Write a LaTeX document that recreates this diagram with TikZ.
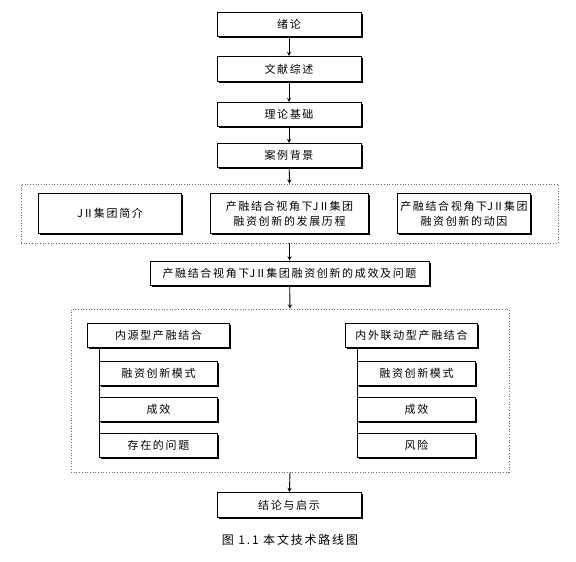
\documentclass[tikz,border=0pt]{standalone}
\usepackage{fontspec}
\setmainfont{Noto Sans CJK SC}[LetterSpace = 15]
\newfontfamily\tightfont{Noto Sans CJK SC}
\usepackage{tikz}
\usepackage{xcolor}
\usetikzlibrary{shadows}
\definecolor{framecolor}{HTML}{6e6e6e}
\newcommand{\jtwo}{{\tightfont JⅡ}}

\begin{document}
\begin{tikzpicture}[x = 1pt, y = -1pt,
        mainbox/.style = {draw, fill = white, rectangle, line width = 1pt, inner sep = 0pt, align = center,
            font = \fontsize{11pt}{15pt}\selectfont,
            drop shadow = {shadow xshift = 1.5pt, shadow yshift = -1.5pt, fill = black, opacity = 1}},
        dotframe/.style = {draw = framecolor, dotted, line width = 0.7pt, rectangle, inner sep = 0pt},
        link/.style = {->, > = stealth, line width = 0.9pt}]
        \useasboundingbox (0, 0) rectangle (576, 562);
        % Nodes of the main column
        \node [mainbox, minimum width = 144pt, minimum height = 24pt] (intro) at (289, 24.5) {绪论};
        \node [mainbox, minimum width = 144pt, minimum height = 25pt] (review) at (289, 69) {文献综述};
        \node [mainbox, minimum width = 144pt, minimum height = 24pt] (theory) at (289, 114.5) {理论基础};
        \node [mainbox, minimum width = 144pt, minimum height = 24pt] (case) at (289, 155.5) {案例背景};
        % First dotted frame and its three boxes
        \node [dotframe, minimum width = 537pt, minimum height = 59pt] (frameA) at (289.5, 213.5) {};
        \node [mainbox, minimum width = 143pt, minimum height = 40pt] (profile) at (110, 213.5) {\jtwo 集团简介};
        \node [mainbox, minimum width = 158pt, minimum height = 40pt] (history) at (289.5, 213.5) {产融结合视角下\jtwo 集团\\融资创新的发展历程};
        \node [mainbox, minimum width = 133pt, minimum height = 40pt] (motive) at (464, 213.5) {产融结合视角下\jtwo 集团\\融资创新的动因};
        \node [mainbox, minimum width = 279pt, minimum height = 24pt] (effect) at (289.5, 273) {产融结合视角下\jtwo 集团融资创新的成效及问题};
        % Second dotted frame
        \node [dotframe, minimum width = 438pt, minimum height = 163pt] (frameB) at (290, 390.5) {};
        \node [mainbox, minimum width = 142pt, minimum height = 24pt] (inner) at (158.5, 335.5) {内源型产融结合};
        \node [mainbox, minimum width = 118pt, minimum height = 24pt] (innerA) at (158.5, 373) {融资创新模式};
        \node [mainbox, minimum width = 118pt, minimum height = 24pt] (innerB) at (158.5, 409.5) {成效};
        \node [mainbox, minimum width = 118pt, minimum height = 24pt] (innerC) at (158.5, 445.5) {存在的问题};
        \node [mainbox, minimum width = 132pt, minimum height = 24pt] (outer) at (411.5, 335.5) {内外联动型产融结合};
        \node [mainbox, minimum width = 118pt, minimum height = 24pt] (outerA) at (416.5, 373) {融资创新模式};
        \node [mainbox, minimum width = 118pt, minimum height = 24pt] (outerB) at (416.5, 409.5) {成效};
        \node [mainbox, minimum width = 118pt, minimum height = 24pt] (outerC) at (416.5, 445.5) {风险};
        % Last box and caption
        \node [mainbox, minimum width = 144pt, minimum height = 25pt] (concl) at (289, 505) {结论与启示};
        \node [font = \fontsize{12pt}{14pt}\selectfont] (caption) at (290, 539.5) {图 1.1 本文技术路线图};
        % Draw the links
        \draw [link] (intro) -- (review);
        \draw [link] (review) -- (theory);
        \draw [link] (theory) -- (case);
        \draw [link] (case) -- (frameA.north);
        \draw [link] (frameA.south) -- (effect);
        \draw [link] (effect) -- (frameB.north);
        \draw [link] (frameB.south) -- (concl);
        % Draw the side lines of the two groups
        \draw [line width = 0.8pt] (inner.south -| innerA.west) -- (innerC.north west);
        \draw [line width = 0.8pt] (outer.south -| outerA.west) -- (outerC.north west);
\end{tikzpicture}
\end{document}
